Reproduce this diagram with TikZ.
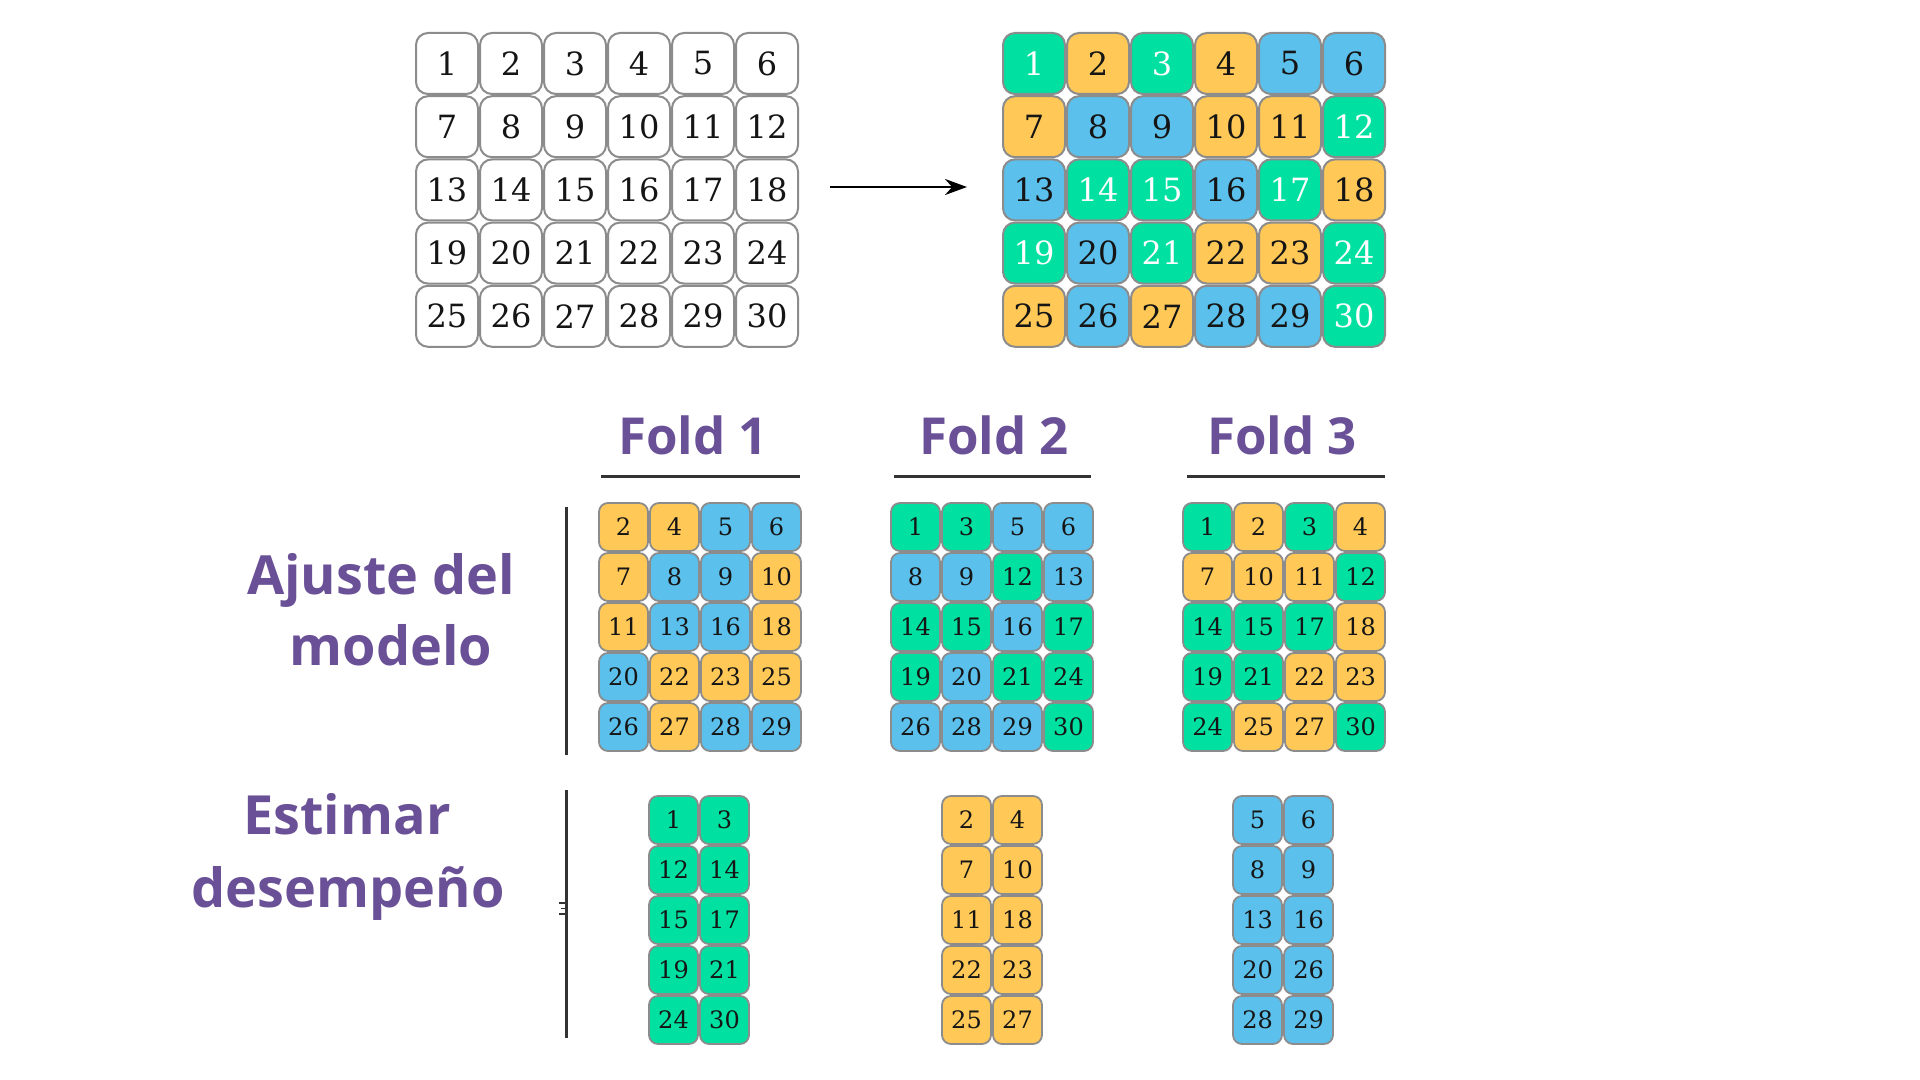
\documentclass[tikz,border=0pt]{standalone}
\usepackage{fontspec}
\setmainfont{DejaVu Serif}
\newfontfamily\labelfont{Open Sans}
\usetikzlibrary{arrows.meta}
\definecolor{cvgreen}{HTML}{00E0A1}
\definecolor{cvorange}{HTML}{FFC857}
\definecolor{cvblue}{HTML}{5BC0EB}
\definecolor{cvpurple}{HTML}{6A5096}
\definecolor{cvborder}{HTML}{8C8C8C}
\definecolor{cvline}{HTML}{333333}
\definecolor{cvtext}{HTML}{151515}
\begin{document}
\begin{tikzpicture}[x=0.5pt,y=-0.5pt,
  cellbig/.style={draw=cvborder,line width=1pt,rounded corners=6pt,minimum width=31pt,minimum height=30.5pt,inner sep=0pt,font=\fontsize{16}{16}\selectfont},
  cellsm/.style={draw=cvborder,line width=0.9pt,rounded corners=4.5pt,minimum width=24.5pt,minimum height=24pt,inner sep=0pt,font=\fontsize{12}{12}\selectfont,text=cvtext},
  lab/.style={font=\labelfont\bfseries\fontsize{27}{27}\selectfont,text=cvpurple,inner sep=0pt,anchor=base},
  foldlab/.style={font=\labelfont\bfseries\fontsize{25.5}{25.5}\selectfont,text=cvpurple,inner sep=0pt,anchor=base},
  sepline/.style={draw=cvline,line width=1.5pt},
  arrowline/.style={draw=black,line width=1.3pt,-{Stealth[length=11pt,width=8pt]}}
]
\fill[white] (0,0) rectangle (1920,1080);
\useasboundingbox (0,0) rectangle (1920,1080);

% ---- top left plain grid
\foreach \n [count=\i from 0] in {1,...,30}{
  \pgfmathtruncatemacro{\col}{mod(\i,6)}
  \pgfmathtruncatemacro{\row}{div(\i,6)}
  \node[cellbig,fill=white,text=cvtext] (L\n) at ({447+64*\col},{63.5+63.2*\row}) {\n};
}

% ---- top right coloured grid
\foreach \n/\c/\t [count=\i from 0] in {1/green/white,2/orange/cvtext,3/green/white,4/orange/cvtext,5/blue/cvtext,6/blue/cvtext,
  7/orange/cvtext,8/blue/cvtext,9/blue/cvtext,10/orange/cvtext,11/orange/cvtext,12/green/white,
  13/blue/cvtext,14/green/white,15/green/white,16/blue/cvtext,17/green/white,18/orange/cvtext,
  19/green/white,20/blue/cvtext,21/green/white,22/orange/cvtext,23/orange/cvtext,24/green/white,
  25/orange/cvtext,26/blue/cvtext,27/orange/cvtext,28/blue/cvtext,29/blue/cvtext,30/green/white}{
  \pgfmathtruncatemacro{\col}{mod(\i,6)}
  \pgfmathtruncatemacro{\row}{div(\i,6)}
  \node[cellbig,fill=cv\c,text=\t] (R\n) at ({1034+64*\col},{63.5+63.2*\row}) {\n};
}

% ---- arrow
\coordinate (arrS) at (830,187);
\coordinate (arrE) at (967,187);
\draw[arrowline] (arrS) -- (arrE);

% ---- fold headers
\node[foldlab] (fold1) at (693,454) {Fold 1};
\node[foldlab] (fold2) at (994,454) {Fold 2};
\node[foldlab] (fold3) at (1282,454) {Fold 3};
\coordinate (u1a) at (601,476); \coordinate (u1b) at (800,476);
\coordinate (u2a) at (894,476); \coordinate (u2b) at (1091,476);
\coordinate (u3a) at (1187,476); \coordinate (u3b) at (1385,476);
\draw[sepline] (u1a) -- (u1b);
\draw[sepline] (u2a) -- (u2b);
\draw[sepline] (u3a) -- (u3b);

% ---- row labels
\node[lab] (aj1) at (381,594) {Ajuste del};
\node[lab] (aj2) at (391,665) {modelo};
\node[lab] (es1) at (347,834) {Estimar};
\node[lab] (es2) at (348,907) {desempeño};

% ---- vertical separators
\coordinate (v1a) at (566,507); \coordinate (v1b) at (566,755);
\coordinate (v2a) at (566,790); \coordinate (v2b) at (566,1038);
\draw[sepline] (v1a) -- (v1b);
\draw[sepline] (v2a) -- (v2b);
\draw[draw=cvline,line width=0.8pt] (559,903) -- (565,903) (561,908.5) -- (565,908.5) (559,914) -- (565,914);

% ---- training grids
\foreach \n/\c [count=\i from 0] in {2/orange,4/orange,5/blue,6/blue,7/orange,8/blue,9/blue,10/orange,11/orange,13/blue,16/blue,18/orange,20/blue,22/orange,23/orange,25/orange,26/blue,27/orange,28/blue,29/blue}{
  \pgfmathtruncatemacro{\col}{mod(\i,4)}
  \pgfmathtruncatemacro{\row}{div(\i,4)}
  \node[cellsm,fill=cv\c] (Fa\n) at ({599+24.5+51*\col},{503+24+50*\row}) {\n};
}
\foreach \n/\c [count=\i from 0] in {1/green,3/green,5/blue,6/blue,8/blue,9/blue,12/green,13/blue,14/green,15/green,16/blue,17/green,19/green,20/blue,21/green,24/green,26/blue,28/blue,29/blue,30/green}{
  \pgfmathtruncatemacro{\col}{mod(\i,4)}
  \pgfmathtruncatemacro{\row}{div(\i,4)}
  \node[cellsm,fill=cv\c] (Fb\n) at ({891+24.5+51*\col},{503+24+50*\row}) {\n};
}
\foreach \n/\c [count=\i from 0] in {1/green,2/orange,3/green,4/orange,7/orange,10/orange,11/orange,12/green,14/green,15/green,17/green,18/orange,19/green,21/green,22/orange,23/orange,24/green,25/orange,27/orange,30/green}{
  \pgfmathtruncatemacro{\col}{mod(\i,4)}
  \pgfmathtruncatemacro{\row}{div(\i,4)}
  \node[cellsm,fill=cv\c] (Fc\n) at ({1183+24.5+51*\col},{503+24+50*\row}) {\n};
}

% ---- test grids
\foreach \n [count=\i from 0] in {1,3,12,14,15,17,19,21,24,30}{
  \pgfmathtruncatemacro{\col}{mod(\i,2)}
  \pgfmathtruncatemacro{\row}{div(\i,2)}
  \node[cellsm,fill=cvgreen] (Ea\n) at ({649+24.5+51*\col},{796+24+50*\row}) {\n};
}
\foreach \n [count=\i from 0] in {2,4,7,10,11,18,22,23,25,27}{
  \pgfmathtruncatemacro{\col}{mod(\i,2)}
  \pgfmathtruncatemacro{\row}{div(\i,2)}
  \node[cellsm,fill=cvorange] (Eb\n) at ({942+24.5+51*\col},{796+24+50*\row}) {\n};
}
\foreach \n [count=\i from 0] in {5,6,8,9,13,16,20,26,28,29}{
  \pgfmathtruncatemacro{\col}{mod(\i,2)}
  \pgfmathtruncatemacro{\row}{div(\i,2)}
  \node[cellsm,fill=cvblue] (Ec\n) at ({1233+24.5+51*\col},{796+24+50*\row}) {\n};
}
\end{tikzpicture}
\end{document}
